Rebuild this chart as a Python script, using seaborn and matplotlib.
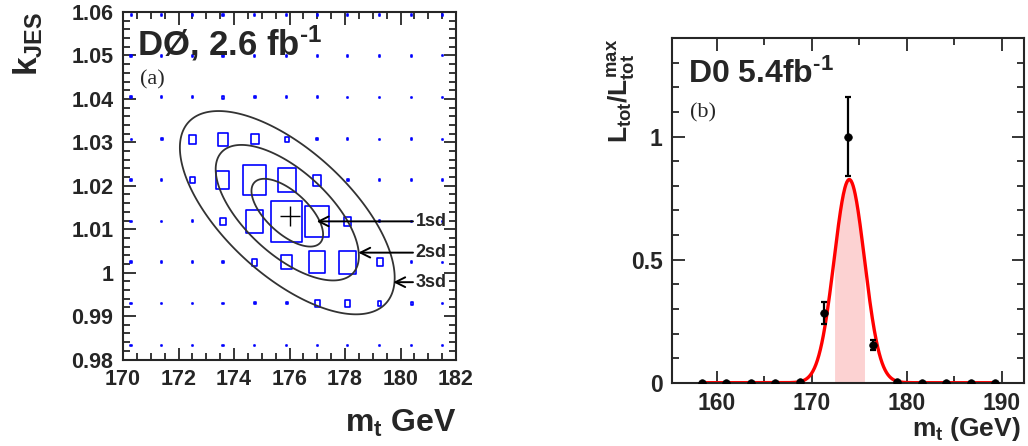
import numpy as np
import pandas as pd
import matplotlib
matplotlib.use("Agg")
import matplotlib.pyplot as plt
import seaborn as sns
from matplotlib.path import Path
from matplotlib.markers import MarkerStyle
from matplotlib.ticker import MultipleLocator, FuncFormatter

# ---------------- data: panel (a) ----------------
mt_grid = [170.29, 171.4, 172.5, 173.6, 174.75, 175.9, 177.0, 178.1, 179.25, 180.4, 181.5]
kjes_grid = [0.9832, 0.9929, 1.0024, 1.0118, 1.0213, 1.0307, 1.0404, 1.0499, 1.0593]
# relative likelihood per cell (rows: kjes_grid bottom->top, cols: mt_grid)
like_rows = [
    [0.04, 0.04, 0.04, 0.04, 0.04, 0.04, 0.04, 0.04, 0.04, 0.04, 0.03],
    [0.04, 0.04, 0.04, 0.04, 0.05, 0.05, 0.15, 0.17, 0.11, 0.06, 0.03],
    [0.04, 0.04, 0.04, 0.04, 0.17, 0.34, 0.53, 0.55, 0.19, 0.05, 0.03],
    [0.04, 0.04, 0.05, 0.17, 0.55, 1.00, 0.76, 0.23, 0.05, 0.04, 0.03],
    [0.04, 0.04, 0.15, 0.42, 0.74, 0.58, 0.27, 0.06, 0.04, 0.04, 0.03],
    [0.03, 0.05, 0.21, 0.32, 0.25, 0.13, 0.05, 0.04, 0.03, 0.04, 0.03],
    [0.04, 0.04, 0.05, 0.07, 0.05, 0.04, 0.04, 0.03, 0.03, 0.03, 0.03],
    [0.04, 0.04, 0.04, 0.04, 0.04, 0.04, 0.04, 0.04, 0.04, 0.04, 0.03],
    [0.03, 0.04, 0.04, 0.04, 0.04, 0.04, 0.04, 0.04, 0.04, 0.04, 0.03],
]
best_fit = (176.0, 1.013)
contour_center = (175.92, 1.0138)
contour_sigma = (1.29, 0.0078)
contour_rho = -0.64
contour_levels = [1, 2, 3]
contour_labels = ["1sd", "2sd", "3sd"]
label_y = [1.0118, 1.0046, 0.9978]
arrow_tip_x = [176.98, 178.48, 179.74]

# ---------------- data: panel (b) ----------------
mt_points = [158.4, 161.0, 163.6, 166.1, 168.7, 171.3, 173.8, 176.4, 179.0, 181.6, 184.1, 186.7, 189.3]
L_points = [0.0, 0.0, 0.0, 0.0, 0.003, 0.283, 1.0, 0.154, 0.002, 0.0, 0.0, 0.0, 0.0]
L_errors = [0.0, 0.0, 0.0, 0.0, 0.0, 0.045, 0.16, 0.02, 0.0, 0.0, 0.0, 0.0, 0.0]
fit_mean = 173.93
fit_sigma = 1.6
fit_amp = 0.826

# ---------------- style ----------------
sns.set_style("ticks")
plt.rcParams["font.family"] = ["Liberation Sans", "DejaVu Sans"]
plt.rcParams["font.weight"] = "bold"
plt.rcParams["axes.labelweight"] = "bold"
plt.rcParams["mathtext.fontset"] = "custom"
for k in ["rm", "it", "bf", "sf"]:
    plt.rcParams["mathtext." + k] = "Liberation Sans:bold"
plt.rcParams["axes.linewidth"] = 1.5

fig = plt.figure(figsize=(10.28, 4.46), dpi=100)
ax1 = fig.add_axes([123 / 1028, (446 - 359.5) / 446, 333 / 1028, 347.5 / 446])
ax2 = fig.add_axes([672.3 / 1028, (446 - 382.7) / 446, 352 / 1028, 344.4 / 446])

# ---------------- panel (a) ----------------
recs = []
for j, ky in enumerate(kjes_grid):
    for i, mx in enumerate(mt_grid):
        v = like_rows[j][i]
        recs.append({"mt": mx, "kjes": ky, "like": v, "area": v ** 2})
df_a = pd.DataFrame(recs)

w = 0.755 / 2
box_path = Path([(-w, -0.5), (w, -0.5), (w, 0.5), (-w, 0.5), (-w, -0.5)],
                [Path.MOVETO, Path.LINETO, Path.LINETO, Path.LINETO, Path.CLOSEPOLY])
sns.scatterplot(data=df_a, x="mt", y="kjes", size="area", sizes=(0, 880),
                size_norm=(0, 1), marker=MarkerStyle(box_path), facecolor="none",
                edgecolor="#0000ff", linewidth=1.2, legend=False, ax=ax1, zorder=3)

gx = np.linspace(170, 182, 400)
gy = np.linspace(0.98, 1.06, 400)
GX, GY = np.meshgrid(gx, gy)
zx = (GX - contour_center[0]) / contour_sigma[0]
zy = (GY - contour_center[1]) / contour_sigma[1]
D = np.sqrt((zx ** 2 - 2 * contour_rho * zx * zy + zy ** 2) / (1 - contour_rho ** 2))
ax1.contour(GX, GY, D, levels=contour_levels, colors="#333333", linewidths=1.3, zorder=4)

ax1.plot(*best_fit, marker="+", ms=14, mew=1.0, color="black", zorder=5)

for lab, ly, tip in zip(contour_labels, label_y, arrow_tip_x):
    ax1.annotate("", xy=(tip, ly), xytext=(180.45, ly),
                 arrowprops=dict(arrowstyle="->,head_length=0.7,head_width=0.35",
                                 lw=1.4, color="black", shrinkA=0, shrinkB=0), zorder=6)
    ax1.text(180.55, ly, lab, fontsize=13, fontweight="bold", va="center", ha="left")

ax1.set_xlim(170, 182)
ax1.set_ylim(0.98, 1.06)
ax1.xaxis.set_major_locator(MultipleLocator(2))
ax1.xaxis.set_minor_locator(MultipleLocator(0.5))
ax1.yaxis.set_major_locator(MultipleLocator(0.01))
ax1.yaxis.set_minor_locator(MultipleLocator(0.002))
ax1.yaxis.set_major_formatter(FuncFormatter(lambda v, p: "1" if abs(v - 1) < 1e-9 else f"{v:.2f}"))
ax1.xaxis.set_major_formatter(FuncFormatter(lambda v, p: f"{v:.0f}"))
ax1.tick_params(which="both", direction="in", top=True, right=True, labelsize=15.5, width=1.3)
ax1.tick_params(which="major", length=9, pad=7)
ax1.tick_params(which="minor", length=5)
ax1.set_xlabel("$m_t$ GeV", fontsize=23, fontweight="bold", loc="right")
ax1.xaxis.set_label_coords(1.0, -0.14)
ax1.set_ylabel("$k_{JES}$", fontsize=24, fontweight="bold", loc="top")
ax1.yaxis.set_label_coords(-0.235, 1.0)
ax1.text(0.042, 0.876, r"DØ, 2.6 fb$^{\text{-}1}$", transform=ax1.transAxes, fontsize=25,
         fontweight="bold", va="baseline")
ax1.text(0.051, 0.79, "(a)", transform=ax1.transAxes, fontsize=16, family="Liberation Serif",
         fontweight="normal", va="baseline")

# ---------------- panel (b) ----------------
xs = np.linspace(mt_points[0], mt_points[-1], 600)
curve = fit_amp * np.exp(-0.5 * ((xs - fit_mean) / fit_sigma) ** 2)
band = (xs >= fit_mean - fit_sigma) & (xs <= fit_mean + fit_sigma)
ax2.fill_between(xs[band], 0, curve[band], color="#fcd2d2", lw=0, zorder=1)
sns.lineplot(x=xs, y=curve, color="red", lw=2.4, ax=ax2, zorder=2)

df_b = pd.DataFrame({"mt": mt_points, "L": L_points, "err": L_errors})
ax2.errorbar(df_b["mt"], df_b["L"], yerr=df_b["err"], fmt="none", ecolor="black",
             elinewidth=1.6, capsize=2.5, capthick=1.6, zorder=4)
sns.scatterplot(data=df_b, x="mt", y="L", color="black", s=30, edgecolor="black",
                linewidth=0.5, ax=ax2, zorder=5, legend=False)

ax2.set_xlim(155.3, 192.35)
ax2.set_ylim(0, 1.4)
ax2.xaxis.set_major_locator(MultipleLocator(10))
ax2.xaxis.set_minor_locator(MultipleLocator(5))
ax2.yaxis.set_major_locator(MultipleLocator(0.5))
ax2.yaxis.set_minor_locator(MultipleLocator(0.1))
ax2.yaxis.set_major_formatter(FuncFormatter(lambda v, p: f"{v:g}"))
ax2.xaxis.set_major_formatter(FuncFormatter(lambda v, p: f"{v:.0f}"))
ax2.tick_params(which="both", direction="in", top=True, right=True, labelsize=16.5, width=1.3)
ax2.tick_params(which="major", length=9, pad=7)
ax2.tick_params(which="minor", length=5)
ax2.set_xlabel("$m_t$ (GeV)", fontsize=19, fontweight="bold", loc="right")
ax2.xaxis.set_label_coords(0.99, -0.095)
ax2.set_ylabel("$L_{tot}/L_{tot}^{max}$", fontsize=19, fontweight="bold", loc="top")
ax2.yaxis.set_label_coords(-0.10, 1.0)
ax2.text(0.045, 0.869, r"D0 5.4fb$^{\text{-}1}$", transform=ax2.transAxes, fontsize=23,
         fontweight="bold", va="baseline")
ax2.text(0.05, 0.769, "(b)", transform=ax2.transAxes, fontsize=16, family="Liberation Serif",
         fontweight="normal", va="baseline")

fig.savefig("out.png", dpi=100)
